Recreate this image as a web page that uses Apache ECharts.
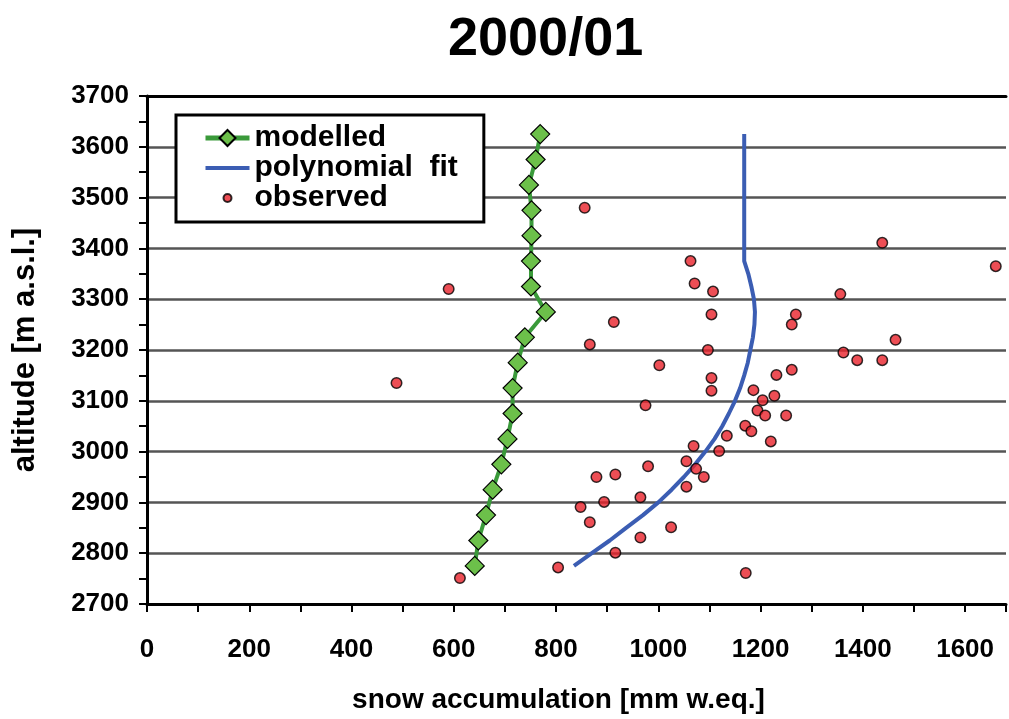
<!DOCTYPE html>
<html>
<head>
<meta charset="utf-8">
<script src="https://cdn.jsdelivr.net/npm/echarts@6/dist/echarts.min.js"></script>
<style>
  html, body { margin: 0; padding: 0; background: #fff; }
  #chart { width: 1009px; height: 719px; }
</style>
</head>
<body>
<div id="chart"></div>
<script>
// modelled snow accumulation, one value every 50 m
var modelAltitudes = [2775, 2825, 2875, 2925, 2975, 3025, 3075, 3125, 3175, 3225, 3275, 3325, 3375, 3425, 3475, 3525, 3575, 3625];
var modelValues = [641, 648, 663, 676, 693, 705, 715, 715, 725, 739, 780, 751, 751, 752, 752, 747, 760, 769];

// polynomial fit of the observations
var fitAltitudes = [2775, 2800, 2825, 2850, 2875, 2900, 2925, 2950, 2975, 3000, 3025, 3050, 3075, 3100, 3125, 3150, 3175, 3200, 3225, 3250, 3275, 3300, 3325, 3350, 3375, 3500, 3625];
var fitValues = [835, 870, 905, 937, 970, 1000, 1026, 1050, 1072, 1092, 1110, 1125, 1138, 1150, 1160, 1168, 1175, 1180, 1185, 1188, 1189, 1187, 1182, 1176, 1168, 1168, 1168];

// observed points
var obsValues = [913, 1104, 1269, 1261, 866, 1097, 1002, 1261, 1231, 1104, 1104, 1186, 1204, 1227, 975, 1194, 1209, 1250, 1170, 1182, 1134, 1220, 1069, 1119, 1055, 980, 1074, 879, 916, 1089, 1055, 965, 894, 848, 866, 1025, 965, 916, 804, 1171, 856, 590, 1063, 1071, 1107, 1438, 1660, 1356, 1464, 1362, 1389, 1438, 612, 488];
var obsAltitudes = [3255, 3270, 3270, 3250, 3211, 3200, 3170, 3161, 3151, 3145, 3120, 3121, 3101, 3110, 3091, 3081, 3071, 3071, 3051, 3040, 3031, 3020, 3011, 3001, 2981, 2971, 2966, 2950, 2955, 2950, 2931, 2910, 2901, 2891, 2861, 2851, 2831, 2801, 2772, 2761, 3480, 3320, 3375, 3331, 3315, 3411, 3365, 3310, 3220, 3195, 3180, 3180, 2751, 3135];

function pairs(xs, ys) {
  var out = [];
  for (var i = 0; i < xs.length; i++) out.push([xs[i], ys[i]]);
  return out;
}

var font = "'Liberation Sans', Arial, sans-serif";
var myChart = echarts.init(document.getElementById('chart'));

var option = {
  animation: false,
  backgroundColor: '#fff',
  textStyle: { fontFamily: font },
  title: {
    text: '2000/01',
    left: 443,
    top: 8,
    textStyle: { fontFamily: font, fontWeight: 'bold', fontSize: 54, color: '#000' }
  },
  legend: {
    orient: 'vertical',
    left: 176,
    top: 115,
    padding: [8, 26, 9, 27],
    itemGap: 0,
    itemWidth: 44,
    itemHeight: 20,
    symbolKeepAspect: true,
    borderColor: '#000',
    borderWidth: 3,
    backgroundColor: '#fff',
    textStyle: { fontFamily: font, fontWeight: 'bold', fontSize: 30, color: '#000', lineHeight: 27 },
    data: [
      { name: 'modelled', lineStyle: { width: 5 } },
      { name: 'polynomial  fit', lineStyle: { width: 4 }, itemStyle: { color: 'rgba(0,0,0,0)', borderWidth: 0 } },
      { name: 'observed', icon: 'path://M0,0 M20,20 M10,6 A4,4 0 1 1 10,14 A4,4 0 1 1 10,6 Z' }
    ]
  },
  grid: { left: 147, right: 0, top: 96, bottom: 113 },
  xAxis: [{
    type: 'value',
    min: 0,
    max: 1680,
    interval: 100,
    name: 'snow accumulation [mm w.eq.]',
    nameLocation: 'middle',
    nameGap: 82,
    nameTextStyle: { fontFamily: font, fontWeight: 'bold', fontSize: 28, color: '#000', padding: [0, 36, 0, 0] },
    axisLine: { show: true, onZero: false, lineStyle: { color: '#000', width: 3 } },
    axisTick: { show: true, length: 8, lineStyle: { color: '#000', width: 2 } },
    axisLabel: {
      margin: 33,
      fontFamily: font, fontWeight: 'bold', fontSize: 26, color: '#000',
      formatter: function (v) { return v % 200 === 0 ? String(v) : ''; }
    },
    splitLine: { show: false }
  }, {
    type: 'value',
    position: 'top',
    min: 0,
    max: 1680,
    axisLine: { show: true, onZero: false, lineStyle: { color: '#000', width: 3 } },
    axisTick: { show: false },
    axisLabel: { show: false },
    splitLine: { show: false }
  }],
  yAxis: {
    type: 'value',
    min: 2700,
    max: 3700,
    interval: 100,
    name: 'altitude [m a.s.l.]',
    nameLocation: 'middle',
    nameGap: 106,
    nameTextStyle: { fontFamily: font, fontWeight: 'bold', fontSize: 31, color: '#000' },
    axisLine: { show: true, onZero: false, lineStyle: { color: '#000', width: 3 } },
    axisTick: { show: true, length: 8, lineStyle: { color: '#000', width: 2 } },
    minorTick: { show: true, splitNumber: 2, length: 8, lineStyle: { color: '#000', width: 2 } },
    axisLabel: {
      margin: 18, fontFamily: font, fontWeight: 'bold', fontSize: 26, color: '#000',
      formatter: function (v) { return String(v); }
    },
    splitLine: { show: true, lineStyle: { color: '#555', width: 2.5 } }
  },
  series: [
    {
      name: 'modelled',
      type: 'line',
      data: pairs(modelValues, modelAltitudes),
      symbol: 'diamond',
      symbolSize: 19,
      showAllSymbol: true,
      lineStyle: { color: '#3a9a3a', width: 4 },
      itemStyle: { color: '#6cc04a', borderColor: '#000', borderWidth: 1.2 },
      z: 3
    },
    {
      name: 'polynomial  fit',
      type: 'line',
      data: pairs(fitValues, fitAltitudes),
      symbol: 'none',
      lineStyle: { color: '#3b5db3', width: 4 },
      itemStyle: { color: '#3b5db3' },
      z: 2
    },
    {
      name: 'observed',
      type: 'scatter',
      data: pairs(obsValues, obsAltitudes),
      symbolSize: 10.5,
      itemStyle: { color: '#e8222a', borderColor: '#000', borderWidth: 1.5 },
      z: 4
    }
  ]
};

myChart.setOption(option);
</script>
</body>
</html>
